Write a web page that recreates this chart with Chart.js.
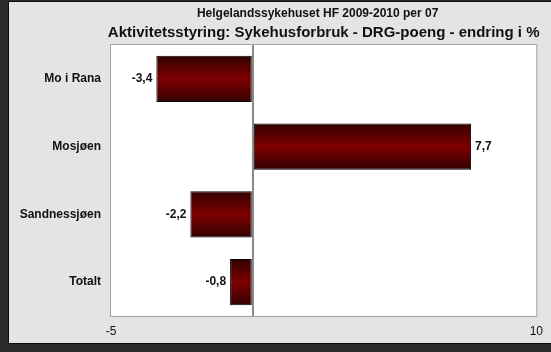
<!DOCTYPE html>
<html>
<head>
<meta charset="utf-8">
<script src="https://cdn.jsdelivr.net/npm/chart.js@4"></script>
<style>
  html, body { margin: 0; padding: 0; background: #2b2b2b; }
  #wrap { width: 551px; height: 352px; position: relative; }
</style>
</head>
<body>
<div id="wrap"><canvas id="drgChart" width="551" height="352"></canvas></div>
<script>
// Chart data
const categories = ['Mo i Rana', 'Mosjøen', 'Sandnessjøen', 'Totalt'];
const changePct = [-3.4, 7.7, -2.2, -0.8];
const xTicks = [-5, 0, 10];
const titleLine1 = 'Helgelandssykehuset HF 2009-2010 per 07';
const titleLine2 = 'Aktivitetsstyring: Sykehusforbruk - DRG-poeng - endring i %';

const FONT = '"Liberation Sans", Arial, Helvetica, sans-serif';

// Background panel, plot area and titles
const framePlugin = {
    id: 'frame',
    beforeDraw(chart) {
        const ctx = chart.ctx;
        const a = chart.chartArea;
        ctx.save();
        ctx.fillStyle = '#2b2b2b';
        ctx.fillRect(0, 0, chart.width, chart.height);
        ctx.fillStyle = '#0a0a0a';
        ctx.fillRect(8, 1, chart.width - 8, 343);
        ctx.fillStyle = '#e4e4e4';
        ctx.fillRect(9, 2, chart.width - 9, 341);
        ctx.fillStyle = '#ffffff';
        ctx.fillRect(a.left, a.top, a.right - a.left, a.bottom - a.top);
        ctx.strokeStyle = '#a5a5a5';
        ctx.lineWidth = 1;
        ctx.strokeRect(a.left - 0.5, a.top - 0.5, a.right - a.left + 1, a.bottom - a.top + 1);

        const cx = (a.left + a.right) / 2;
        ctx.fillStyle = '#111';
        ctx.textAlign = 'center';
        ctx.textBaseline = 'middle';
        ctx.font = 'bold 12px ' + FONT;
        ctx.fillText(titleLine1, cx - 6, 14);
        ctx.font = 'bold 15px ' + FONT;
        ctx.fillText(titleLine2, cx, 33);
        ctx.restore();
    }
};

// Value labels beside the bar ends
const valueLabelPlugin = {
    id: 'valueLabels',
    afterDatasetsDraw(chart) {
        const ctx = chart.ctx;
        const meta = chart.getDatasetMeta(0);
        ctx.save();
        ctx.font = 'bold 12px ' + FONT;
        ctx.fillStyle = '#111';
        ctx.textBaseline = 'middle';
        meta.data.forEach((bar, i) => {
            const v = changePct[i];
            const txt = v.toFixed(1).replace('.', ',');
            if (v < 0) {
                ctx.textAlign = 'right';
                ctx.fillText(txt, bar.x - 4, bar.y);
            } else {
                ctx.textAlign = 'left';
                ctx.fillText(txt, bar.x + 4, bar.y);
            }
        });
        ctx.restore();
    }
};

function barGradient(context) {
    const chart = context.chart;
    const yScale = chart.scales.y;
    if (!chart.chartArea || !yScale) return '#7a0000';
    const yc = yScale.getPixelForValue(context.dataIndex);
    const half = 23;
    const g = chart.ctx.createLinearGradient(0, yc - half, 0, yc + half);
    g.addColorStop(0, '#320000');
    g.addColorStop(0.5, '#7e0000');
    g.addColorStop(1, '#320000');
    return g;
}

const canvas = document.getElementById('drgChart');
const chart = new Chart(canvas.getContext('2d'), {
    type: 'bar',
    data: {
        labels: categories,
        datasets: [{
            data: changePct,
            backgroundColor: barGradient,
            borderColor: '#000000',
            borderWidth: 1,
            borderSkipped: false,
            categoryPercentage: 1,
            barPercentage: 0.68
        }]
    },
    plugins: [framePlugin, valueLabelPlugin],
    options: {
        responsive: false,
        animation: false,
        indexAxis: 'y',
        layout: {
            padding: { left: 0, top: 45, right: 13, bottom: 0 }
        },
        plugins: {
            legend: { display: false },
            tooltip: { enabled: false },
            title: { display: false }
        },
        scales: {
            x: {
                min: -5,
                max: 10,
                afterBuildTicks(scale) {
                    scale.ticks = xTicks.map(v => ({ value: v }));
                },
                afterFit(scale) {
                    scale.height = 36;
                },
                border: { display: false },
                grid: {
                    drawTicks: false,
                    color: c => (c.tick && c.tick.value === 0 ? '#8a8a8a' : 'rgba(0,0,0,0)'),
                    lineWidth: c => (c.tick && c.tick.value === 0 ? 2 : 0)
                },
                ticks: {
                    padding: 8,
                    color: '#111',
                    font: { family: FONT, size: 12 },
                    maxRotation: 0,
                    callback: v => (v === 0 ? '' : String(v))
                }
            },
            y: {
                afterFit(scale) {
                    scale.width = 111;
                },
                border: { display: false },
                grid: { display: false, drawTicks: false },
                ticks: {
                    padding: 10,
                    color: '#111',
                    font: { family: FONT, size: 12, weight: 'bold' }
                }
            }
        }
    }
});
</script>
</body>
</html>
